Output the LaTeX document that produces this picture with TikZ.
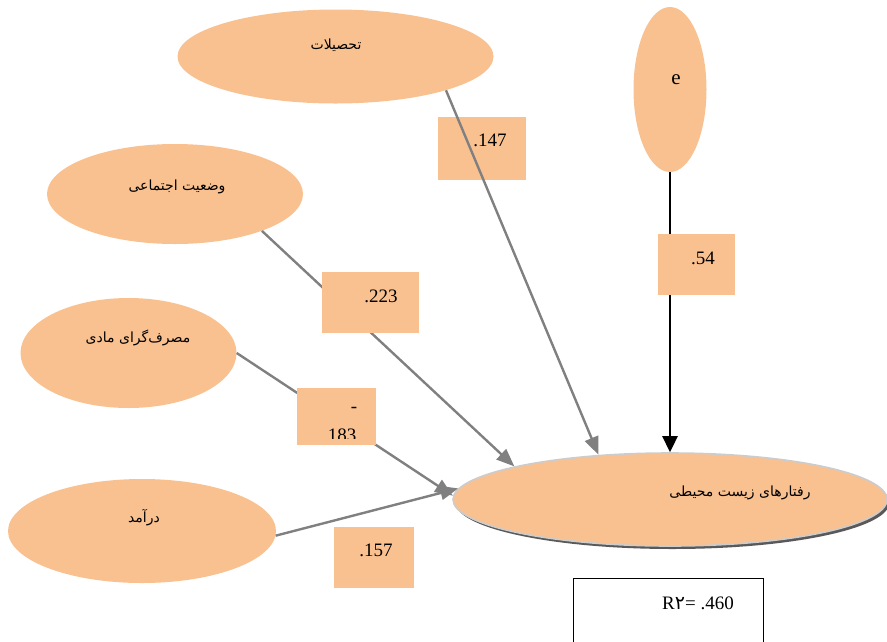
\documentclass[tikz,border=0pt]{standalone}
\usepackage{fontspec}
\setmainfont{Liberation Serif}
\newfontfamily\arabicfont[Script=Arabic]{DejaVu Sans}
\TeXXeTstate=1
\usetikzlibrary{shapes.geometric,arrows.meta}
\definecolor{peach}{HTML}{F9C190}
\definecolor{lgray}{HTML}{808080}
\begin{document}
\begin{tikzpicture}[x=1pt,y=-1pt,
  ell/.style={ellipse,fill=peach,inner sep=0pt},
  lab/.style={rectangle,fill=peach,inner sep=0pt},
  fa/.style={inner sep=0pt,font=\arabicfont\fontsize{14}{16}\selectfont},
  num/.style={inner sep=0pt,font=\fontsize{19}{22}\selectfont},
  garrow/.style={draw=lgray,line width=2.4pt,-{Triangle[length=18pt,width=14pt]}},
  barrow/.style={draw=black,line width=2.6pt,-{Triangle[length=16pt,width=15pt]}}]
\useasboundingbox (0,0) rectangle (887,641);

% ellipses
\node[ell,minimum width=316pt,minimum height=94pt] (tah) at (335.5,56.5) {};
\node[ell,minimum width=256pt,minimum height=100pt] (soc) at (175,194) {};
\node[ell,minimum width=216pt,minimum height=110pt] (mat) at (128.5,353) {};
\node[ell,minimum width=268pt,minimum height=104pt] (inc) at (142,531) {};
\node[ell,minimum width=73pt,minimum height=165pt] (e) at (670,89.5) {};
\node[ellipse,fill=black!65,inner sep=0pt,minimum width=434pt,minimum height=93pt] (mainsh) at (672.5,502.5) {};
\node[ell,draw=gray!40,line width=1.6pt,minimum width=434pt,minimum height=93pt] (main) at (670,499.5) {};

% ellipse texts
\node[fa] (ttah) at (336,45) {\beginR تحصیلات\endR};
\node[fa] (tsoc) at (177,187) {\beginR وضعیت اجتماعی\endR};
\node[fa] (tmat) at (138,338) {\beginR مصرف‌گرای مادی\endR};
\node[fa] (tinc) at (144,518) {\beginR درآمد\endR};
\node[fa] (tmain) at (740,493) {\beginR رفتارهای زیست محیطی\endR};
\node[inner sep=0pt,font=\fontsize{21}{24}\selectfont] (te) at (676,80) {e};

% box under the first arrow
\node[lab,minimum width=88pt,minimum height=63pt] (b147) at (482,148.5) {};

% connectors
\draw[garrow] (tah.-17) -- (main.148);
\draw[garrow] (soc.-23) -- (main.168);
\draw[garrow] (mat.0) -- (main.179);
\draw[garrow] (inc.-2) -- (main.177);
\draw[barrow] (e.south) -- (main.north);

% coefficient boxes
\node[lab,minimum width=97pt,minimum height=61pt] (b223) at (370.5,302.5) {};
\node[lab,minimum width=77pt,minimum height=61pt] (b54) at (696.5,264.5) {};
\node[lab,minimum width=79pt,minimum height=57pt] (b183) at (336.5,416.5) {};
\node[lab,minimum width=80pt,minimum height=61pt] (b157) at (374,557.5) {};

\node[num] (t147) at (490,140) {.147};
\node[num] (t223) at (381,296) {.223};
\node[num] (t54) at (703,258) {.54};
\node[num] (t183a) at (354,410) {-};
\begin{scope}
\clip (297,388) rectangle (376,438);
\node[num] (t183b) at (342,435) {183};
\end{scope}
\node[num] (t157) at (376,550) {.157};

% R2 box
\node[rectangle,draw=black,line width=1pt,minimum width=190pt,minimum height=66pt,inner sep=0pt] (rbox) at (668,611) {};
\node[num] (tr) at (698,603) {R{\arabicfont ٢}= .460};
\end{tikzpicture}
\end{document}
